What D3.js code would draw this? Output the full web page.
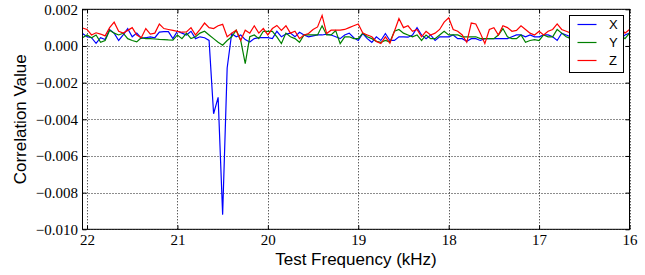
<!DOCTYPE html>
<html lang="en">
<head>
<meta charset="UTF-8">
<script src="https://d3js.org/d3.v7.min.js"></script>
<title>Correlation vs test frequency</title>
<style>
  body { margin: 0; background: #fff; }
  svg text.serif { font-family: "Liberation Serif", "Times New Roman", serif !important; }
</style>
</head>
<body>
<svg id="chart" width="645" height="275"></svg>
<script>

// sweep: 22.05 kHz down to 16.00 kHz in 50 Hz steps
const freqStart = 22.05, freqStep = 0.05, nFreq = 122;
const freqs = d3.range(nFreq).map(i => +(freqStart - i * freqStep).toFixed(2));

const xVals = [0.00068,0.00050,0.00045,0.00014,0.00045,0.00035,0.00089,0.00070,0.00030,0.00060,
  0.00094,0.00050,0.00070,0.00042,0.00045,0.00050,0.00045,0.00076,0.00078,0.00078,
  0.00040,0.00080,0.00070,0.00060,0.00080,0.00040,0.00050,0.00045,0.00030,-0.00370,
  -0.00280,-0.00920,-0.00120,0.00068,0.00050,0.00060,0.00035,0.00022,0.00040,0.00045,
  0.00045,0.00045,0.00040,0.00080,0.00050,0.00065,0.00070,0.00050,0.00075,0.00060,
  0.00050,0.00055,0.00060,0.00060,0.00065,0.00060,0.00050,0.00040,0.00060,0.00070,
  0.00045,0.00030,0.00068,0.00040,0.00020,0.00050,0.00030,0.00068,0.00030,0.00030,
  0.00050,0.00050,0.00048,0.00060,0.00100,0.00060,0.00040,0.00060,0.00030,0.00050,
  0.00050,0.00050,0.00060,0.00040,0.00040,0.00025,0.00040,0.00040,0.00030,0.00040,
  0.00040,0.00040,0.00040,0.00040,0.00040,0.00050,0.00060,0.00060,0.00050,0.00060,
  0.00050,0.00050,0.00060,0.00060,0.00050,0.00030,0.00070,0.00060,0.00050,0.00060,
  0.00040,0.00050,0.00070,0.00050,0.00060,0.00040,0.00050,0.00060,0.00050,0.00040,
  0.00060,0.00070];

const yVals = [0.00045,0.00060,0.00045,0.00060,0.00020,0.00030,0.00086,0.00070,0.00060,0.00070,
  0.00040,0.00030,0.00022,0.00045,0.00040,0.00040,0.00038,0.00036,0.00035,0.00033,
  0.00032,0.00060,0.00040,0.00070,0.00040,0.00050,0.00070,0.00080,0.00060,0.00040,
  0.00020,0.00004,0.00030,0.00050,0.00086,0.00030,-0.00096,0.00050,0.00060,0.00040,
  0.00080,0.00080,0.00080,0.00050,0.00013,0.00070,0.00050,0.00040,0.00020,0.00060,
  0.00060,0.00060,0.00060,0.00110,0.00060,0.00060,0.00084,0.00013,0.00050,0.00050,
  0.00040,0.00040,0.00070,0.00050,0.00040,0.00025,0.00020,0.00030,0.00022,0.00080,
  0.00090,0.00070,0.00060,0.00050,0.00060,0.00030,0.00060,0.00040,0.00040,0.00060,
  0.00080,0.00060,0.00060,0.00060,0.00050,0.00050,0.00050,0.00050,0.00040,0.00040,
  0.00040,0.00040,0.00060,0.00095,0.00050,0.00040,0.00040,0.00060,0.00020,0.00030,
  0.00035,0.00030,0.00060,0.00050,0.00050,0.00090,0.00070,0.00050,0.00040,0.00030,
  0.00060,0.00040,0.00050,0.00030,0.00060,0.00050,0.00040,0.00030,0.00050,0.00060,
  0.00040,0.00070];

const zVals = [0.00098,0.00090,0.00060,0.00072,0.00065,0.00055,0.00100,0.00130,0.00080,0.00070,
  0.00085,0.00100,0.00060,0.00045,0.00095,0.00065,0.00070,0.00120,0.00095,0.00090,
  0.00085,0.00080,0.00075,0.00076,0.00100,0.00060,0.00090,0.00125,0.00100,0.00095,
  0.00110,0.00118,0.00050,0.00070,0.00086,0.00030,0.00086,0.00070,0.00110,0.00070,
  0.00095,0.00060,0.00095,0.00112,0.00085,0.00110,0.00070,0.00080,0.00040,0.00060,
  0.00068,0.00090,0.00104,0.00167,0.00068,0.00086,0.00086,0.00086,0.00090,0.00100,
  0.00110,0.00120,0.00070,0.00060,0.00050,0.00025,0.00013,0.00050,0.00015,0.00080,
  0.00150,0.00100,0.00110,0.00080,0.00090,0.00050,0.00080,0.00060,0.00070,0.00090,
  0.00130,0.00154,0.00090,0.00080,0.00060,0.00020,0.00125,0.00120,0.00070,0.00013,
  0.00090,0.00100,0.00060,0.00110,0.00100,0.00080,0.00085,0.00110,0.00090,0.00070,
  0.00060,0.00080,0.00060,0.00080,0.00090,0.00120,0.00090,0.00080,0.00070,0.00090,
  0.00060,0.00080,0.00100,0.00070,0.00080,0.00060,0.00090,0.00070,0.00080,0.00100,
  0.00070,0.00090];

const seriesNames = ["X", "Y", "Z"];
const seriesColors = ["#0000ff", "#008000", "#ff0000"];
const xTicks = [22, 21, 20, 19, 18, 17, 16];
const yTicks = [-0.010, -0.008, -0.006, -0.004, -0.002, 0.000, 0.002];

const svg = d3.select("svg#chart");
const plotLeft = 82.5, plotRight = 629.5, plotTop = 9.3, plotBottom = 229.3;
const sans = "'Liberation Sans', Arial, sans-serif";

const x = d3.scaleLinear().domain([freqStart, 16]).range([plotLeft, plotRight]);
const y = d3.scaleLinear().domain([-0.010, 0.002]).range([plotBottom, plotTop]);

// dotted grid
const grid = svg.append("g").attr("stroke", "#000").attr("stroke-width", 0.9)
  .attr("stroke-dasharray", "1,2");
grid.selectAll("line.gx").data(xTicks).join("line").attr("class", "gx")
  .attr("x1", d => Math.round(x(d)) + 0.5).attr("x2", d => Math.round(x(d)) + 0.5)
  .attr("y1", plotTop).attr("y2", plotBottom);
grid.selectAll("line.gy").data(yTicks).join("line").attr("class", "gy")
  .attr("y1", d => Math.round(y(d)) + 0.5).attr("y2", d => Math.round(y(d)) + 0.5)
  .attr("x1", plotLeft).attr("x2", plotRight);

svg.append("clipPath").attr("id", "clip").append("rect")
  .attr("x", plotLeft).attr("y", plotTop)
  .attr("width", plotRight - plotLeft).attr("height", plotBottom - plotTop);

// data lines
const allSeries = [xVals, yVals, zVals];
const lineGen = d3.line()
  .x((d, i) => x(freqs[i]))
  .y(d => y(d));

svg.append("g").attr("clip-path", "url(#clip)")
  .selectAll("path").data(allSeries).join("path")
  .attr("fill", "none")
  .attr("stroke", (d, i) => seriesColors[i])
  .attr("stroke-width", 1.2)
  .attr("d", lineGen);

// axes, ticks pointing inwards on all sides
const fmt = d3.format(".3f");
const bAxis = svg.append("g").attr("transform", `translate(0,${plotBottom})`)
  .call(d3.axisBottom(x).tickValues(xTicks).tickSize(-4).tickPadding(5).tickFormat(d3.format("d")));
const lAxis = svg.append("g").attr("transform", `translate(${plotLeft},0)`)
  .call(d3.axisLeft(y).tickValues(yTicks).tickSize(-4).tickPadding(4.5).tickFormat(fmt));
svg.append("g").attr("transform", `translate(0,${plotTop})`)
  .call(d3.axisTop(x).tickValues(xTicks).tickSize(-4).tickFormat(""));
svg.append("g").attr("transform", `translate(${plotRight},0)`)
  .call(d3.axisRight(y).tickValues(yTicks).tickSize(-4).tickFormat(""));
svg.selectAll(".domain").remove();
svg.selectAll(".tick line").attr("stroke", "#000");
[bAxis, lAxis].forEach(g => g.attr("font-size", 15)
  .selectAll("text").attr("class", "serif").attr("fill", "#000"));

// frame
svg.append("rect")
  .attr("x", plotLeft).attr("y", plotTop)
  .attr("width", plotRight - plotLeft).attr("height", plotBottom - plotTop)
  .attr("fill", "none").attr("stroke", "#000").attr("stroke-width", 1);

// axis labels
svg.append("text")
  .attr("font-family", sans).attr("font-size", 17)
  .attr("x", (plotLeft + plotRight) / 2).attr("y", 265)
  .attr("text-anchor", "middle")
  .text("Test Frequency (kHz)");
svg.append("text")
  .attr("font-family", sans).attr("font-size", 17)
  .attr("transform", `translate(26,${(plotTop + plotBottom) / 2}) rotate(-90)`)
  .attr("text-anchor", "middle")
  .text("Correlation Value");

// legend
const legend = svg.append("g").attr("transform", "translate(569.5,15.5)");
legend.append("rect").attr("width", 54).attr("height", 57)
  .attr("fill", "#fff").attr("stroke", "#000").attr("stroke-width", 1);
seriesNames.forEach((name, i) => {
  legend.append("line")
    .attr("x1", 8).attr("x2", 27)
    .attr("y1", 9 + i * 18).attr("y2", 9 + i * 18)
    .attr("stroke", seriesColors[i]).attr("stroke-width", 1.2);
  legend.append("text")
    .attr("x", 39.5).attr("y", 9 + i * 18)
    .attr("dy", "0.36em")
    .attr("font-family", sans)
    .attr("font-size", 13)
    .text(name);
});

</script>
</body>
</html>
